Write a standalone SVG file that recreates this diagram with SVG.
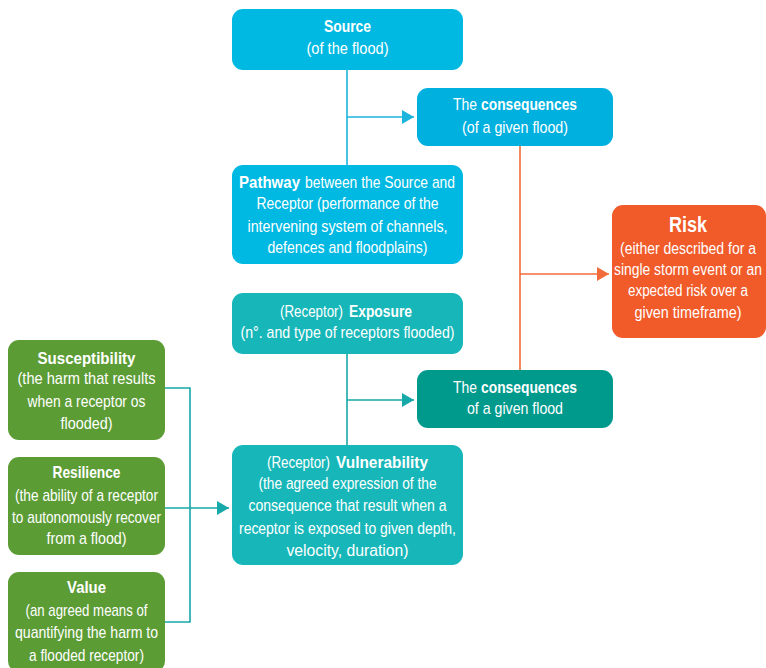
<svg xmlns="http://www.w3.org/2000/svg" width="766" height="668" viewBox="0 0 766 668">
<defs>
<style>
text{font-family:"Liberation Sans",Arial,sans-serif;font-size:17px;fill:#fff;text-anchor:middle}
text.s{text-anchor:start}
text.m{font-size:16px}
.b{font-weight:bold}
.cy{fill:#00b9e2}
.cy2{fill:#00b0df}
.tl{fill:#17b7b9}
.dk{fill:#009a8d}
.or{fill:#f15a29}
.gr{fill:#5c9c35}
.lc{stroke:#1ab4dc;stroke-width:1.6;fill:none}
.lt{stroke:#17a8a8;stroke-width:1.6;fill:none}
.lo{stroke:#f26b3a;stroke-width:1.6;fill:none}
</style>
<marker id="ac" markerUnits="userSpaceOnUse" markerWidth="14" markerHeight="16" refX="12" refY="7" orient="auto"><path d="M0,0L12,7L0,14z" fill="#1ab4dc"/></marker>
<marker id="at" markerUnits="userSpaceOnUse" markerWidth="14" markerHeight="16" refX="12" refY="7" orient="auto"><path d="M0,0L12,7L0,14z" fill="#17a8a8"/></marker>
<marker id="ao" markerUnits="userSpaceOnUse" markerWidth="14" markerHeight="16" refX="12" refY="7" orient="auto"><path d="M0,0L12,7L0,14z" fill="#f26b3a"/></marker>
</defs>
<rect width="766" height="668" fill="#fff"/>
<g id="connectors">
<path class="lc" d="M347,70V165"/>
<path class="lc" d="M347,117H414" marker-end="url(#ac)"/>
<path class="lt" d="M347,354V445"/>
<path class="lt" d="M347,400H414" marker-end="url(#at)"/>
<path class="lo" d="M520,146V370"/>
<path class="lo" d="M520,274H609" marker-end="url(#ao)"/>
<path class="lt" d="M165,388H190V622H165"/>
<path class="lt" d="M165,508H229" marker-end="url(#at)"/>
</g>
<g id="source">
<rect class="cy" x="232" y="9" width="231" height="61" rx="11"/>
<text x="347.5" y="32" class="b" textLength="47" lengthAdjust="spacingAndGlyphs">Source</text>
<text x="347.5" y="54" textLength="82" lengthAdjust="spacingAndGlyphs">(of the flood)</text>
</g>
<g id="consequences1">
<rect class="cy2" x="417" y="88" width="196" height="58" rx="11"/>
<text x="453" y="110" class="s" textLength="24" lengthAdjust="spacingAndGlyphs">The</text>
<text x="481" y="110" class="s b" textLength="96" lengthAdjust="spacingAndGlyphs">consequences</text>
<text x="515" y="133" textLength="106" lengthAdjust="spacingAndGlyphs">(of a given flood)</text>
</g>
<g id="pathway">
<rect class="cy" x="232" y="165" width="231" height="99" rx="11"/>
<text x="239" y="188" class="s b" textLength="61" lengthAdjust="spacingAndGlyphs">Pathway</text>
<text x="305" y="188" class="s" textLength="150" lengthAdjust="spacingAndGlyphs">between the Source and</text>
<text x="347.5" y="209" textLength="182" lengthAdjust="spacingAndGlyphs">Receptor (performance of the</text>
<text x="347.5" y="232" textLength="200" lengthAdjust="spacingAndGlyphs">intervening system of channels,</text>
<text x="347.5" y="253" textLength="160" lengthAdjust="spacingAndGlyphs">defences and floodplains)</text>
</g>
<g id="risk">
<rect class="or" x="612" y="205" width="154" height="133" rx="11"/>
<text x="688" y="232" class="b" style="font-size:22px" textLength="38" lengthAdjust="spacingAndGlyphs">Risk</text>
<text x="688" y="254" class="m" textLength="136" lengthAdjust="spacingAndGlyphs">(either described for a</text>
<text x="688" y="275" class="m" textLength="148" lengthAdjust="spacingAndGlyphs">single storm event or an</text>
<text x="688" y="296" class="m" textLength="120" lengthAdjust="spacingAndGlyphs">expected risk over a</text>
<text x="688" y="318" class="m" textLength="107" lengthAdjust="spacingAndGlyphs">given timeframe)</text>
</g>
<g id="exposure">
<rect class="tl" x="232" y="293" width="231" height="61" rx="11"/>
<text x="280" y="317" class="s m" textLength="63" lengthAdjust="spacingAndGlyphs">(Receptor)</text>
<text x="349" y="317" class="s b m" textLength="63" lengthAdjust="spacingAndGlyphs">Exposure</text>
<text x="347.5" y="338" textLength="214" lengthAdjust="spacingAndGlyphs">(n°. and type of receptors flooded)</text>
</g>
<g id="consequences2">
<rect class="dk" x="417" y="370" width="196" height="58" rx="11"/>
<text x="453" y="393" class="s" textLength="24" lengthAdjust="spacingAndGlyphs">The</text>
<text x="481" y="393" class="s b" textLength="96" lengthAdjust="spacingAndGlyphs">consequences</text>
<text x="515" y="414" textLength="96" lengthAdjust="spacingAndGlyphs">of a given flood</text>
</g>
<g id="vulnerability">
<rect class="tl" x="232" y="445" width="231" height="120" rx="11"/>
<text x="267" y="468" class="s m" textLength="63" lengthAdjust="spacingAndGlyphs">(Receptor)</text>
<text x="336" y="468" class="s b m" textLength="92" lengthAdjust="spacingAndGlyphs">Vulnerability</text>
<text x="347.5" y="489" textLength="178" lengthAdjust="spacingAndGlyphs">(the agreed expression of the</text>
<text x="347.5" y="511" textLength="198" lengthAdjust="spacingAndGlyphs">consequence that result when a</text>
<text x="347.5" y="534" textLength="217" lengthAdjust="spacingAndGlyphs">receptor is exposed to given depth,</text>
<text x="347.5" y="556" class="m" textLength="122" lengthAdjust="spacingAndGlyphs">velocity, duration)</text>
</g>
<g id="susceptibility">
<rect class="gr" x="8" y="340" width="157" height="100" rx="11"/>
<text x="86.5" y="364" class="b" textLength="98" lengthAdjust="spacingAndGlyphs">Susceptibility</text>
<text x="86.5" y="384" textLength="138" lengthAdjust="spacingAndGlyphs">(the harm that results</text>
<text x="86.5" y="407" textLength="118" lengthAdjust="spacingAndGlyphs">when a receptor os</text>
<text x="86.5" y="429" textLength="52" lengthAdjust="spacingAndGlyphs">flooded)</text>
</g>
<g id="resilience">
<rect class="gr" x="8" y="457" width="157" height="98" rx="11"/>
<text x="86.5" y="478" class="b" textLength="68" lengthAdjust="spacingAndGlyphs">Resilience</text>
<text x="86.5" y="501" textLength="143" lengthAdjust="spacingAndGlyphs">(the ability of a receptor</text>
<text x="86.5" y="523" textLength="149" lengthAdjust="spacingAndGlyphs">to autonomously recover</text>
<text x="86.5" y="544" textLength="80" lengthAdjust="spacingAndGlyphs">from a flood)</text>
</g>
<g id="value">
<rect class="gr" x="8" y="572" width="157" height="100" rx="11"/>
<text x="86.5" y="593" class="b" textLength="39" lengthAdjust="spacingAndGlyphs">Value</text>
<text x="86.5" y="616" textLength="122" lengthAdjust="spacingAndGlyphs">(an agreed means of</text>
<text x="86.5" y="638" textLength="143" lengthAdjust="spacingAndGlyphs">quantifying the harm to</text>
<text x="86.5" y="661" textLength="115" lengthAdjust="spacingAndGlyphs">a flooded receptor)</text>
</g>
</svg>
